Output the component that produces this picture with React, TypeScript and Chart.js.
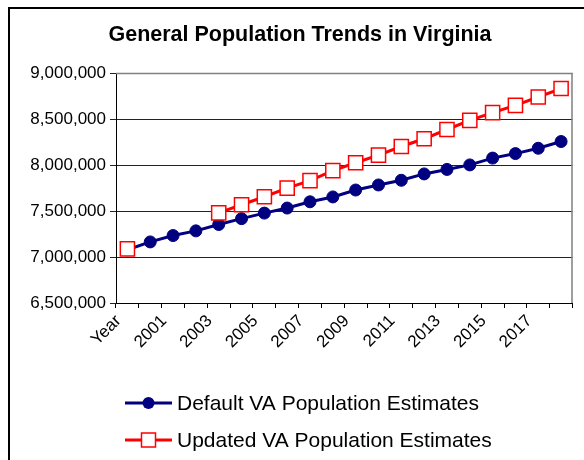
import React, { useEffect, useRef } from "react";
import { Chart, registerables } from "chart.js";

Chart.register(...registerables);

const categories = ["Year", "2000", "2001", "2002", "2003", "2004", "2005", "2006", "2007", "2008", "2009", "2010", "2011", "2012", "2013", "2014", "2015", "2016", "2017", "2018"];

const defaultEstimates = [7079000, 7164000, 7233000, 7284000, 7353000, 7417000, 7477000, 7532000, 7600000, 7653000, 7728000, 7783000, 7834000, 7903000, 7952000, 8001000, 8075000, 8124000, 8182000, 8255000];

const updatedEstimates = [7089000, null, null, null, 7480000, 7568000, 7655000, 7748000, 7830000, 7939000, 8024000, 8107000, 8201000, 8285000, 8386000, 8485000, 8569000, 8648000, 8739000, 8831000];

const seriesNames = ["Default VA Population Estimates", "Updated VA Population Estimates"];
const chartTitle = "General Population Trends in Virginia";

const yMin = 6500000;
const yMax = 9000000;
const yStep = 500000;

const FONT = "'Liberation Sans', Arial, sans-serif";
const NAVY = "#000080";
const RED = "#FF0000";

const overlayPlugin = {
  id: "overlay",
  beforeDatasetsDraw(chart: any) {
    const { ctx, chartArea } = chart;
    ctx.save();
    ctx.strokeStyle = "#808080";
    ctx.lineWidth = 1.5;
    ctx.beginPath();
    ctx.moveTo(chartArea.left, chartArea.top + 0.5);
    ctx.lineTo(chartArea.right - 0.5, chartArea.top + 0.5);
    ctx.lineTo(chartArea.right - 0.5, chartArea.bottom);
    ctx.stroke();
    ctx.restore();
  },
  afterDraw(chart: any) {
    const { ctx } = chart;
    ctx.save();
    // title
    ctx.fillStyle = "#000";
    ctx.font = `bold 21.5px ${FONT}`;
    ctx.textAlign = "center";
    ctx.textBaseline = "middle";
    ctx.fillText(chartTitle, 300, 35);

    // legend
    const x0 = 125;
    const x1 = 172;
    const xm = (x0 + x1) / 2;
    const rows = [403, 440];
    ctx.font = `21px ${FONT}`;
    ctx.textAlign = "left";
    // row 1
    ctx.strokeStyle = NAVY;
    ctx.lineWidth = 3;
    ctx.beginPath();
    ctx.moveTo(x0, rows[0]);
    ctx.lineTo(x1, rows[0]);
    ctx.stroke();
    ctx.fillStyle = NAVY;
    ctx.beginPath();
    ctx.arc(xm, rows[0], 6, 0, Math.PI * 2);
    ctx.fill();
    ctx.fillStyle = "#000";
    ctx.fillText(seriesNames[0], 177, rows[0] + 1);
    // row 2
    ctx.strokeStyle = RED;
    ctx.lineWidth = 3;
    ctx.beginPath();
    ctx.moveTo(x0, rows[1]);
    ctx.lineTo(x1, rows[1]);
    ctx.stroke();
    ctx.fillStyle = "#fff";
    ctx.fillRect(xm - 7, rows[1] - 7, 14, 14);
    ctx.strokeStyle = RED;
    ctx.lineWidth = 1.5;
    ctx.strokeRect(xm - 7, rows[1] - 7, 14, 14);
    ctx.fillStyle = "#000";
    ctx.fillText(seriesNames[1], 177, rows[1] + 1);
    ctx.restore();
  },
};

export default function App() {
  const canvasRef = useRef<HTMLCanvasElement | null>(null);

  useEffect(() => {
    if (!canvasRef.current) return;
    const chart = new Chart(canvasRef.current, {
      type: "line",
      data: {
        labels: categories,
        datasets: [
          {
            label: seriesNames[1],
            data: updatedEstimates,
            borderColor: RED,
            backgroundColor: "#fff",
            borderWidth: 3,
            pointStyle: "rect",
            pointRadius: 10,
            pointBorderColor: RED,
            pointBackgroundColor: "#fff",
            pointBorderWidth: 1.5,
            spanGaps: false,
            tension: 0,
            order: 0,
          },
          {
            label: seriesNames[0],
            data: defaultEstimates,
            borderColor: NAVY,
            backgroundColor: NAVY,
            borderWidth: 3,
            pointStyle: "circle",
            pointRadius: 6,
            pointBorderColor: NAVY,
            pointBackgroundColor: NAVY,
            pointBorderWidth: 1,
            tension: 0,
            order: 1,
          },
        ],
      },
      options: {
        animation: false,
        responsive: false,
        maintainAspectRatio: false,
        events: [],
        layout: { padding: { top: 73, left: 0, right: 7, bottom: 97 } },
        plugins: {
          legend: { display: false },
          title: { display: false },
          tooltip: { enabled: false },
        },
        scales: {
          x: {
            offset: true,
            grid: { offset: true, drawOnChartArea: false, drawTicks: true, tickLength: 5, color: "#000" },
            border: { color: "#000", width: 1 },
            ticks: {
              autoSkip: false,
              maxRotation: 45,
              minRotation: 45,
              padding: 3,
              labelOffset: -9,
              color: "#000",
              font: { family: FONT, size: 17 },
              callback: (_v: any, i: number) => (i % 2 === 0 ? categories[i] : ""),
            },
            afterFit: (s: any) => {
              s.height = 60;
            },
          },
          y: {
            min: yMin,
            max: yMax,
            grid: { color: "#222", tickLength: 6, drawTicks: true },
            border: { color: "#000", width: 1 },
            ticks: {
              stepSize: yStep,
              padding: 4,
              color: "#000",
              font: { family: FONT, size: 17 },
              callback: (v: any) => Number(v).toLocaleString("en-US"),
            },
            afterFit: (s: any) => {
              s.width = 116;
            },
          },
        },
      },
      plugins: [overlayPlugin],
    });
    return () => chart.destroy();
  }, []);

  return (
    <div style={{ position: "fixed", left: 0, top: 0, width: 584, height: 460, overflow: "hidden", background: "#fff" }}>
      <div style={{ position: "absolute", left: 8, top: 7, width: 700, height: 600, border: "2px solid #000", boxSizing: "border-box" }} />
      <canvas ref={canvasRef} width={584} height={460} style={{ position: "absolute", left: 0, top: 0, width: 584, height: 460 }} />
    </div>
  );
}
